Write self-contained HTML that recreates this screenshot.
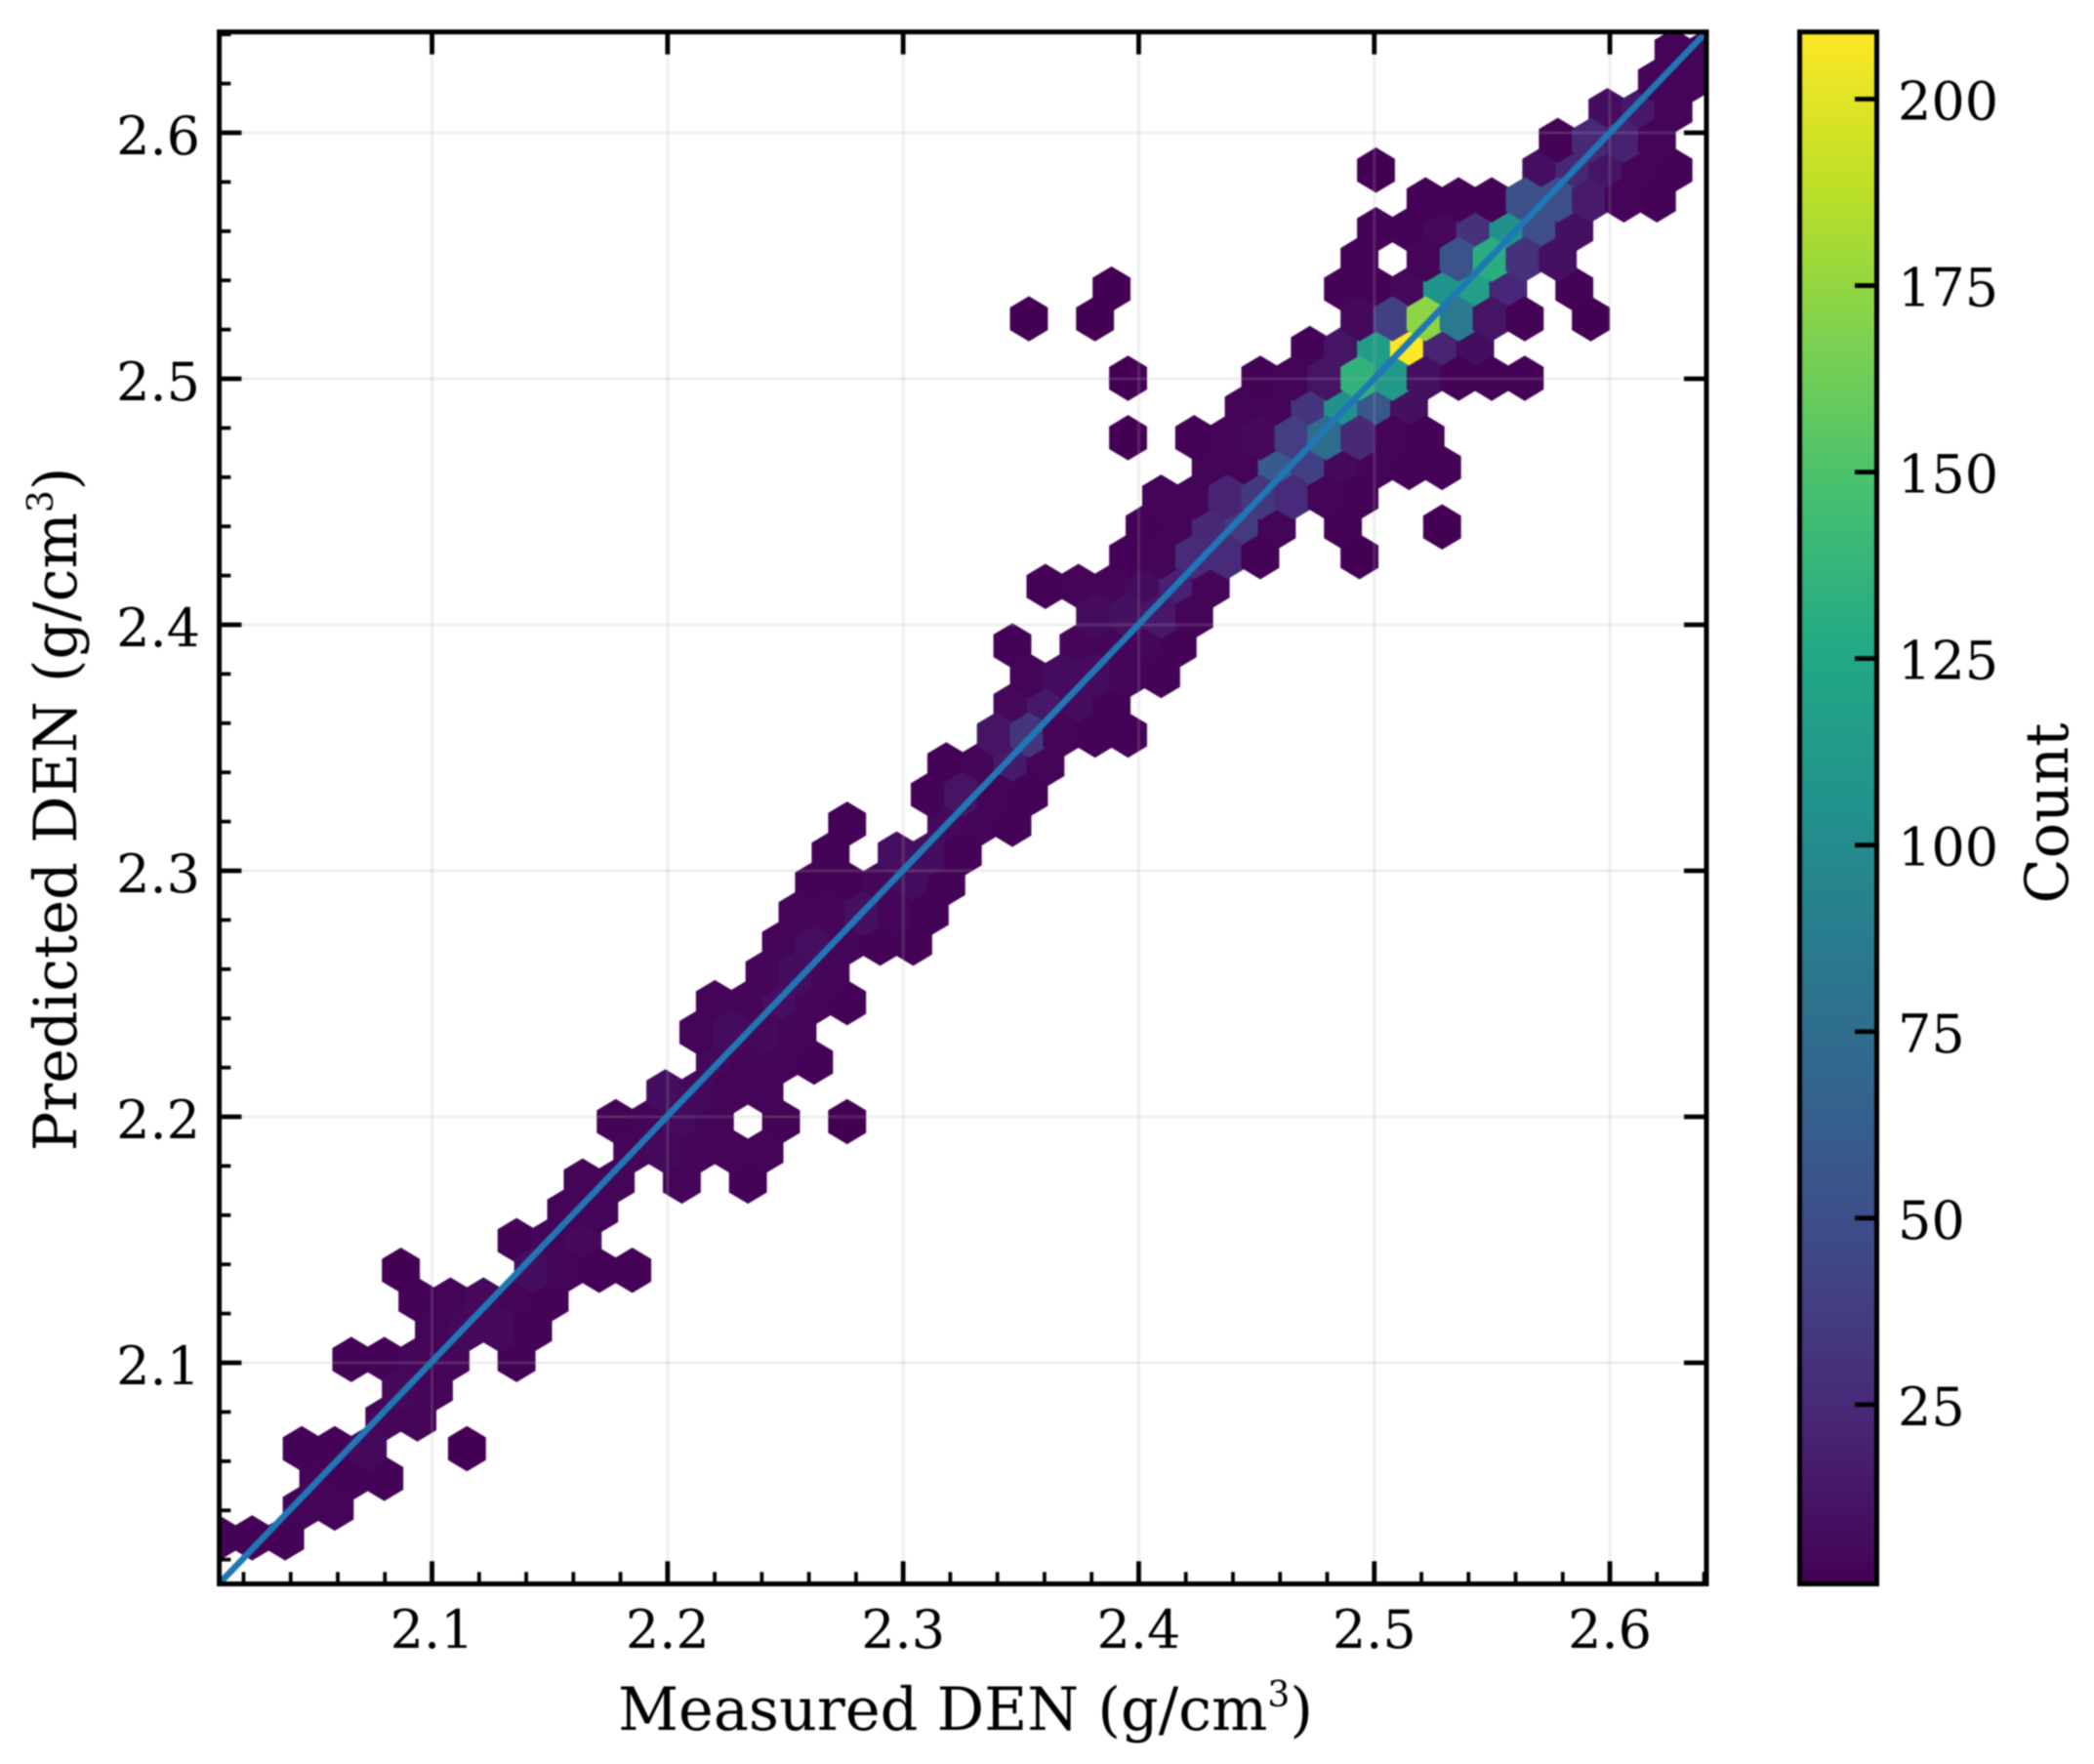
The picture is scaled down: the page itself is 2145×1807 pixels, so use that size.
<!DOCTYPE html>
<html lang="en">
<head>
<meta charset="utf-8">
<title>Measured vs Predicted DEN hexbin</title>
<style>
html,body{margin:0;padding:0;background:#fff;}
svg{display:block;filter:blur(0.7px);}
text{font-family:"DejaVu Serif","Liberation Serif",serif;fill:#000;}
.tick{font-size:54px;}
.title{font-size:60.5px;}
</style>
</head>
<body>
<svg id="chart" xmlns="http://www.w3.org/2000/svg" width="2145" height="1807" viewBox="0 0 2145 1807">
  <defs>
    <clipPath id="axes-clip"><rect x="224.4" y="32.7" width="1523.6" height="1589.6"/></clipPath>
    <linearGradient id="viridis-gradient" x1="0" y1="1" x2="0" y2="0"></linearGradient>
  </defs>
  <rect x="0" y="0" width="2145" height="1807" fill="#ffffff"/>
  <g id="hex-layer" clip-path="url(#axes-clip)"></g>
  <g id="grid-layer"></g>
  <g id="line-layer" clip-path="url(#axes-clip)"></g>
  <g id="tick-layer"></g>
  <rect x="224.6" y="32.7" width="1523.4" height="1589.8" fill="none" stroke="#000" stroke-width="5"/>
  <g id="label-layer"></g>
  <text class="title" x="989" y="1772" text-anchor="middle">Measured DEN (g/cm<tspan dy="-24" font-size="36">3</tspan><tspan dy="24">)</tspan></text>
  <text class="title" transform="translate(78 829) rotate(-90)" text-anchor="middle">Predicted DEN (g/cm<tspan dy="-24" font-size="36">3</tspan><tspan dy="24">)</tspan></text>
  <rect x="1843.5" y="32.7" width="79" height="1589.6" fill="url(#viridis-gradient)"/>
  <g id="cbar-tick-layer"></g>
  <rect x="1843.5" y="32.7" width="79" height="1589.8" fill="none" stroke="#000" stroke-width="5"/>
  <text class="title" transform="translate(2118 833) rotate(-90)" text-anchor="middle">Count</text>
</svg>
<script>
// Tick values and labels
const xMajorTicks = [2.1, 2.2, 2.3, 2.4, 2.5, 2.6];
const xTickLabels = ["2.1", "2.2", "2.3", "2.4", "2.5", "2.6"];
const yMajorTicks = [2.1, 2.2, 2.3, 2.4, 2.5, 2.6];
const yTickLabels = ["2.1", "2.2", "2.3", "2.4", "2.5", "2.6"];
const xMinorTicks = [2.02,2.04,2.06,2.08,2.12,2.14,2.16,2.18,2.22,2.24,2.26,2.28,2.32,2.34,2.36,2.38,2.42,2.44,2.46,2.48,2.52,2.54,2.56,2.58,2.62,2.64];
const yMinorTicks = [2.02,2.04,2.06,2.08,2.12,2.14,2.16,2.18,2.22,2.24,2.26,2.28,2.32,2.34,2.36,2.38,2.42,2.44,2.46,2.48,2.52,2.54,2.56,2.58,2.62,2.64];
const colorbarTicks = [25, 50, 75, 100, 125, 150, 175, 200];
const colorbarTickLabels = ["25", "50", "75", "100", "125", "150", "175", "200"];

// Axis limits
const xLimits = [2.0096, 2.641];
const yLimits = [2.0102, 2.641];
const countLimits = [1, 209];

// Identity line endpoints (data units)
const identityLineX = [2.0096, 2.641];
const identityLineY = [2.0102, 2.641];

// Hexbin lattice: integer half-bin indices along each data axis
const binOriginX = 2.0096;
const binStepX = 0.007016;
const binOriginY = 2.06508;
const binStepY = 0.012087;

const hexRows = [-3,-2,-1,0,1,2,3,4,5,6,7,8,9,10,11,12,13,14,15,16,17,18,19,20,21,22,23,24,25,26,27,28,29,30,31,32,33,34,35,36,37,38,39,40,41,42,43,44,45,46,47];
const hexCols = [
[0,2,4],
[5,7],
[6,8,10],
[5,7,9,15],
[10,12],
[11,13],
[8,10,12,14,18],
[13,15,17,19],
[12,14,16,18,20],
[11,19,21,23,25],
[18,20,22],
[21,23],
[22,24,28,32],
[25,27,29,31,33],
[24,26,28,30,34,38],
[27,29,31,33],
[30,32,34,36],
[29,31,33,35],
[30,32,34,36,38],
[33,35,37],
[34,36,38,40,42],
[35,37,39,41,43],
[36,38,40,42,44],
[37,41,43,45],
[38,44,46,48],
[43,45,47,49],
[44,46,48,50],
[47,49,51,53,55],
[48,50,52,54],
[49,51,53,55,57],
[48,52,54,56,58],
[53,55,57,59],
[50,52,54,56,58,60],
[55,57,59,61,63,69],
[56,58,60,62,64,68,74],
[57,59,61,63,65,67,69],
[60,62,64,66,68,70,72,74],
[55,59,61,63,65,67,69,71,73],
[62,64,66,68,70,72],
[55,63,65,67,69,71,73,75,77,79],
[66,68,70,72,74,76],
[49,53,69,71,73,75,77,79,83],
[54,68,70,72,74,76,78,82],
[69,73,75,77,79,81],
[70,72,74,76,78,80,82],
[73,75,77,79,81,83,85,87],
[70,80,82,84,86,88],
[81,83,85,87],
[84,86,88],
[87,89],
[88,90]
];
const hexCounts = [
[2,2,2],
[3,3],
[3,2,2],
[2,2,6,1],
[4,3],
[6,3],
[2,2,4,4,2],
[3,5,6,2],
[2,3,5,3,2],
[1,8,3,2,2],
[2,3,5],
[3,3],
[3,3,3,2],
[4,5,4,3,3],
[2,3,7,3,2,1],
[8,6,3,3],
[6,4,3,2],
[3,7,6,3],
[3,3,9,4,2],
[4,8,4],
[3,9,4,2,2],
[4,4,10,4,2],
[2,2,4,8,2],
[2,9,8,2],
[2,6,4,2],
[2,12,3,2],
[2,3,15,3],
[12,33,3,2,2],
[5,14,7,2],
[3,7,7,4,2],
[2,4,3,4,2],
[7,10,14,3],
[2,3,4,7,20,4],
[2,3,26,26,2,1],
[2,3,25,36,3,2,1],
[3,3,22,35,26,3,2],
[3,3,60,40,6,3,2,2],
[1,2,3,5,38,75,25,3,2],
[3,3,32,105,58,10],
[1,2,3,12,135,112,10,2,2,2],
[2,12,115,208,22,8],
[1,1,6,40,173,85,12,2,1],
[1,2,2,5,108,118,24,2],
[2,3,55,130,30,10],
[2,2,5,30,105,50,10],
[2,2,2,52,50,16,3,2],
[1,9,24,12,3,2],
[2,25,20,3],
[8,14,3],
[3,3],
[3,3]
];

const NS = "http://www.w3.org/2000/svg";
const plotLeft = 224.4, plotRight = 1748, plotTop = 32.7, plotBottom = 1622.3;

function xScale(v) { return plotLeft + (v - xLimits[0]) / (xLimits[1] - xLimits[0]) * (plotRight - plotLeft); }
function yScale(v) { return plotBottom - (v - yLimits[0]) / (yLimits[1] - yLimits[0]) * (plotBottom - plotTop); }
function countScale(v) { return plotBottom - (v - countLimits[0]) / (countLimits[1] - countLimits[0]) * (plotBottom - plotTop); }

const viridisStops = [[68,1,84],[72,36,117],[65,68,135],[53,95,141],[42,120,142],[33,145,140],[34,168,132],[68,191,112],[122,209,81],[189,223,38],[253,231,37]];
function viridis(t) {
  const s = Math.min(1, Math.max(0, t)) * (viridisStops.length - 1);
  const i = Math.min(viridisStops.length - 2, Math.floor(s));
  const f = s - i;
  const a = viridisStops[i], b = viridisStops[i + 1];
  return "rgb(" + [0, 1, 2].map(k => Math.round(a[k] + (b[k] - a[k]) * f)).join(",") + ")";
}
function countColor(c) { return viridis((c - countLimits[0]) / (countLimits[1] - countLimits[0])); }

function setAttrs(el, attrs) {
  for (const k in attrs) el.setAttribute(k, attrs[k]);
  return el;
}

// Colorbar gradient
const grad = document.getElementById("viridis-gradient");
viridisStops.forEach((c, i) => {
  const stop = document.createElementNS(NS, "stop");
  stop.setAttribute("offset", i / (viridisStops.length - 1));
  stop.setAttribute("stop-color", "rgb(" + c.join(",") + ")");
  grad.appendChild(stop);
});

// Flatten cells, then paint one lattice after the other (hexbin draw order)
const cells = [];
hexRows.forEach((row, r) => {
  hexCols[r].forEach((col, i) => {
    cells.push({ row: row, col: col, count: hexCounts[r][i] });
  });
});
cells.sort((a, b) => (Math.abs(a.col % 2) - Math.abs(b.col % 2)) || (a.col - b.col) || (a.row - b.row));

const hexLayer = document.getElementById("hex-layer");
cells.forEach(cell => {
  const cx = binOriginX + cell.col * binStepX;
  const cy = binOriginY + cell.row * binStepY;
  const dx = binStepX;
  const dyA = binStepY / 3;
  const dyB = binStepY * 2 / 3;
  const verts = [[cx + dx, cy - dyA], [cx + dx, cy + dyA], [cx, cy + dyB], [cx - dx, cy + dyA], [cx - dx, cy - dyA], [cx, cy - dyB]];
  const pts = verts.map(p => xScale(p[0]).toFixed(2) + "," + yScale(p[1]).toFixed(2)).join(" ");
  const poly = document.createElementNS(NS, "polygon");
  
  
  const color = countColor(cell.count);
  setAttrs(poly, { points: pts, fill: color, stroke: color, "stroke-width": 5, "stroke-linejoin": "miter" });
  hexLayer.appendChild(poly);
});

// Grid
const gridLayer = document.getElementById("grid-layer");
xMajorTicks.forEach(v => {
  const l = document.createElementNS(NS, "line");
  
  
  setAttrs(l, { x1: xScale(v), x2: xScale(v), y1: plotTop, y2: plotBottom, stroke: "#b0b0b0", "stroke-opacity": 0.2, "stroke-width": 3 });
  gridLayer.appendChild(l);
});
yMajorTicks.forEach(v => {
  const l = document.createElementNS(NS, "line");
  
  
  setAttrs(l, { x1: plotLeft, x2: plotRight, y1: yScale(v), y2: yScale(v), stroke: "#b0b0b0", "stroke-opacity": 0.2, "stroke-width": 3 });
  gridLayer.appendChild(l);
});

// Identity line
const identity = document.createElementNS(NS, "line");


setAttrs(identity, { x1: xScale(identityLineX[0]), y1: yScale(identityLineY[0]), x2: xScale(identityLineX[1]), y2: yScale(identityLineY[1]), stroke: "#1f77b4", "stroke-width": 6.5 });
document.getElementById("line-layer").appendChild(identity);

// Ticks
const tickLayer = document.getElementById("tick-layer");
function tickLine(name, x1, y1, x2, y2, w) {
  const l = document.createElementNS(NS, "line");
  
  
  setAttrs(l, { x1: x1, y1: y1, x2: x2, y2: y2, stroke: "#000", "stroke-width": w });
  return l;
}
xMajorTicks.forEach(v => {
  tickLayer.appendChild(tickLine("x-major-tick", xScale(v), plotBottom, xScale(v), plotBottom - 23, 4.8));
  tickLayer.appendChild(tickLine("x-top-tick", xScale(v), plotTop, xScale(v), plotTop + 23, 4.8));
});
xMinorTicks.forEach(v => {
  tickLayer.appendChild(tickLine("x-minor-tick", xScale(v), plotBottom, xScale(v), plotBottom - 12, 3.8));
});
yMajorTicks.forEach(v => {
  tickLayer.appendChild(tickLine("y-major-tick", plotLeft, yScale(v), plotLeft + 23, yScale(v), 4.8));
  tickLayer.appendChild(tickLine("y-right-tick", plotRight, yScale(v), plotRight - 23, yScale(v), 4.8));
});
yMinorTicks.forEach(v => {
  tickLayer.appendChild(tickLine("y-minor-tick", plotLeft, yScale(v), plotLeft + 12, yScale(v), 3.8));
});

// Tick labels
const labelLayer = document.getElementById("label-layer");
xMajorTicks.forEach((v, i) => {
  const t = document.createElementNS(NS, "text");
  
  
  setAttrs(t, { class: "tick", x: xScale(v), y: 1688, "text-anchor": "middle" });
  t.textContent = xTickLabels[i];
  labelLayer.appendChild(t);
});
yMajorTicks.forEach((v, i) => {
  const t = document.createElementNS(NS, "text");
  
  
  setAttrs(t, { class: "tick", x: 205, y: yScale(v) + 22, "text-anchor": "end" });
  t.textContent = yTickLabels[i];
  labelLayer.appendChild(t);
});

// Colorbar ticks and labels
const cbarLayer = document.getElementById("cbar-tick-layer");
colorbarTicks.forEach((v, i) => {
  cbarLayer.appendChild(tickLine("colorbar-tick", 1921, countScale(v), 1900, countScale(v), 4.8));
  const t = document.createElementNS(NS, "text");
  
  
  setAttrs(t, { class: "tick", x: 1944, y: countScale(v) + 21 });
  t.textContent = colorbarTickLabels[i];
  cbarLayer.appendChild(t);
});
</script>
</body>
</html>
